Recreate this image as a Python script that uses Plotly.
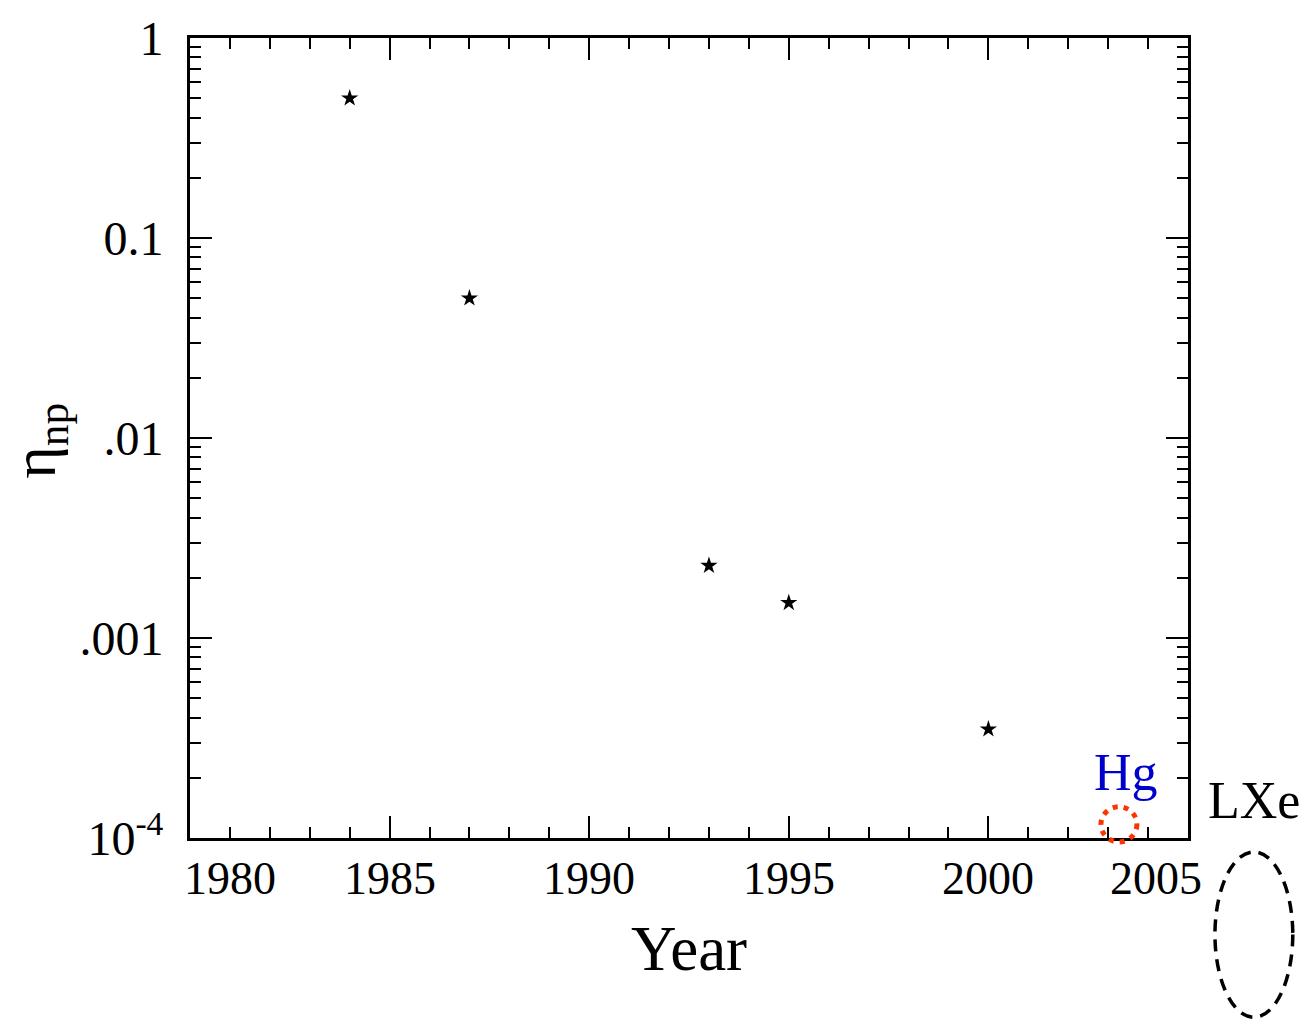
import plotly.graph_objects as go
import math

years = [1984, 1987, 1993, 1995, 2000]
eta_np = [0.5, 0.05, 0.0023, 0.0015, 0.00035]

x_tick_labels = ["1980", "1985", "1990", "1995", "2000", "2005"]
x_label_pos = [1981, 1985, 1990, 1995, 2000, 2004.2]
y_tick_vals = [1e-4, 1e-3, 1e-2, 1e-1, 1]
y_tick_text = ["10<sup>-4</sup>", ".001", ".01", "0.1", "1"]

hg_year, hg_eta = 2003.27, 1.17e-4

FONT = "Liberation Serif, Times New Roman, serif"
Y_LOG_MIN, Y_LOG_MAX = -4, 0

fig = go.Figure()
fig.add_trace(go.Scatter(
    x=years, y=eta_np, mode="markers",
    marker=dict(symbol="star", size=13, color="black"),
    showlegend=False, cliponaxis=False))

minor_y = [m * 10.0 ** e for e in range(-4, 0) for m in range(2, 10)]

fig.update_layout(
    width=1304, height=1020,
    margin=dict(l=190, r=116, t=35, b=182),
    paper_bgcolor="white", plot_bgcolor="white",
    font=dict(family=FONT, color="black", size=46),
    showlegend=False,
    xaxis=dict(
        range=[1980, 2005], showgrid=False, zeroline=False,
        tickmode="array", tickvals=[1980, 1985, 1990, 1995, 2000, 2005],
        ticks="inside", ticklen=22, tickwidth=1.5, tickcolor="black",
        showticklabels=False,
        showline=True, linewidth=3, linecolor="black", mirror="allticks",
        minor=dict(dtick=1, tick0=1980, ticks="inside", ticklen=11, tickwidth=1.5, tickcolor="black"),
    ),
    yaxis=dict(
        type="log", range=[Y_LOG_MIN, Y_LOG_MAX], showgrid=False, zeroline=False,
        tickmode="array", tickvals=y_tick_vals, ticktext=y_tick_text,
        ticks="inside", ticklen=22, tickwidth=1.5, tickcolor="black",
        tickfont=dict(size=48, family=FONT),
        ticklabelstandoff=14,
        showline=True, linewidth=3, linecolor="black", mirror="allticks",
        minor=dict(tickmode="array", tickvals=minor_y, ticks="inside", ticklen=11,
                   tickwidth=1.5, tickcolor="black"),
    ),
)

for lbl, xp in zip(x_tick_labels, x_label_pos):
    fig.add_annotation(x=xp, y=-0.05, xref="x", yref="paper", text=lbl,
                       showarrow=False, xanchor="center", yanchor="middle",
                       font=dict(size=46, family=FONT, color="black"))

fig.add_annotation(x=0.5, y=-0.139, xref="paper", yref="paper", text="Year",
                   showarrow=False, xanchor="center", yanchor="middle",
                   font=dict(size=63, family=FONT, color="black"))
fig.add_annotation(x=-0.152, y=0.497, xref="paper", yref="paper", text="η<sub>np</sub>",
                   showarrow=False, xanchor="center", yanchor="middle", textangle=-90,
                   font=dict(size=62, family=FONT, color="black"))

# Hg marker: red dotted circle, allowed to spill over the bottom frame
hg_py = (math.log10(hg_eta) - Y_LOG_MIN) / (Y_LOG_MAX - Y_LOG_MIN)
hg_dy = 0.088 / (Y_LOG_MAX - Y_LOG_MIN)
fig.add_shape(type="circle", xref="x", yref="paper",
              x0=hg_year - 0.45, x1=hg_year + 0.45,
              y0=hg_py - hg_dy, y1=hg_py + hg_dy,
              line=dict(color="#ff3300", width=5, dash="5px,6px"), layer="above")
fig.add_annotation(x=2003.45, y=-3.671, xref="x", yref="y", text="Hg",
                   showarrow=False, xanchor="center", yanchor="middle",
                   font=dict(size=52, family=FONT, color="#0000cc"))

# LXe marker: dashed ellipse outside the frame
fig.add_shape(type="circle", xref="paper", yref="paper",
              x0=1.027, x1=1.105, y0=-0.224, y1=-0.0174,
              line=dict(color="black", width=3.5, dash="12px,8px"))
fig.add_annotation(x=1.066, y=0.047, xref="paper", yref="paper", text="LXe",
                   showarrow=False, xanchor="center", yanchor="middle",
                   font=dict(size=52, family=FONT, color="black"))

fig.write_html("out.html")
